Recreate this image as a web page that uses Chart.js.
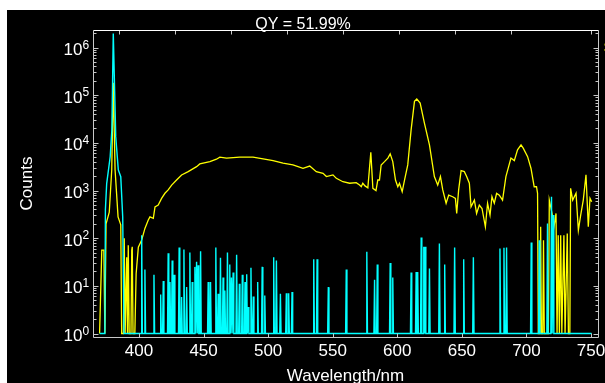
<!DOCTYPE html>
<html>
<head>
<meta charset="utf-8">
<script src="https://cdn.jsdelivr.net/npm/chart.js@4.4.1/dist/chart.umd.min.js"></script>
<style>
  html, body { margin: 0; padding: 0; background: #fff; }
  #wrap { position: absolute; left: 7px; top: 10px; width: 598px; height: 373px; background: #000; overflow: hidden; }
  canvas { display: block; }
</style>
</head>
<body>
<div id="wrap"><canvas id="qyChart" width="598" height="373"></canvas></div>
<script>
// sample emission (yellow), wavelength in nm / counts
var sampleWl = [369.5, 371.2, 372.8, 373.6, 374.5, 377.0, 378.9, 380.1, 381.5, 383.8, 385.9, 386.6, 388.0, 388.6, 389.3,
  390.5, 391.1, 391.7, 392.4, 393.8, 394.4, 394.8, 395.4, 396.8, 397.8, 399.5, 402.1, 404.6, 407.2, 408.5,
  411.1, 412.4, 414.9, 417.5, 420.1, 422.6, 425.3, 429.1, 433.0, 438.1, 444.6, 447.1, 454.9, 460.0, 462.6,
  467.8, 478.0, 488.3, 496.1, 503.8, 511.5, 519.2, 527.0, 532.2, 537.3, 542.5, 545.1, 550.2, 552.8, 557.9,
  563.1, 568.2, 570.8, 572.1, 573.3, 575.0, 577.2, 579.5, 581.1, 583.5, 584.9, 586.2, 587.5, 590.1, 592.7,
  594.5, 596.5, 598.6, 600.4, 601.7, 603.8, 605.6, 608.1, 610.7, 613.3, 615.1, 617.7, 621.0, 624.9, 628.7,
  631.3, 633.4, 635.2, 637.8, 639.8, 642.9, 645.0, 646.0, 647.5, 649.4, 651.9, 653.7, 655.8, 657.1, 659.7,
  661.4, 663.5, 665.6, 668.2, 669.9, 671.8, 673.3, 675.1, 676.9, 679.0, 681.5, 684.1, 688.0, 690.6, 693.1,
  695.8, 697.5, 700.9, 703.5, 706.0, 707.8, 708.6, 709.2, 710.4, 711.0, 711.6, 712.6, 713.2, 713.8, 717.0,
  717.7, 718.8, 720.3, 721.3, 722.9, 723.7, 724.6, 725.5, 726.5, 727.4, 729.0, 729.9, 731.6, 732.5, 733.6,
  734.2, 735.8, 738.4, 740.2, 742.0, 744.0, 746.1, 747.9, 749.2, 750.5];
var sampleCounts = [1, 56, 56, 1, 200, 350, 2700, 183000, 2700, 280, 190, 1, 1, 100, 1,
  40, 1, 71, 1, 1, 56, 66, 1, 1, 18, 65, 91, 160, 240, 280,
  260, 455, 495, 685, 875, 1030, 1300, 1660, 2120, 2490, 3170, 3610, 4040, 4540, 5000,
  4790, 5000, 5000, 4600, 4240, 3740, 3440, 2930, 3260, 2490, 2300, 1960, 2130, 1800, 1530,
  1420, 1460, 1300, 1200, 1420, 1250, 1140, 6300, 1110, 1000, 1660, 1660, 3440, 4040, 4790,
  5870, 4040, 1660, 1200, 1420, 945, 1660, 3440, 18700, 74000, 83000, 68500, 26000, 9080, 1960,
  1300, 1960, 1030, 540, 800, 740, 685, 330, 1030, 2610, 2490, 1960, 1420, 455, 630,
  330, 495, 420, 173, 540, 305, 740, 540, 875, 800, 630, 1960, 4790, 4240, 7130,
  9080, 7750, 5130, 2930, 1200, 1200, 875, 1, 1, 173, 1, 1, 90, 1, 1,
  630, 455, 280, 173, 330, 1, 115, 1, 115, 1, 115, 1, 125, 1, 1,
  1110, 630, 875, 147, 305, 630, 2130, 173, 685, 580];

// blank / reference (cyan): scatter peak, then isolated single-channel counts
var blankWl = [369.5, 373.6, 374.0, 375.0, 377.7, 379.0, 380.1, 382.0, 384.0, 385.9, 387.4, 388.4, 750.5];
var blankCounts = [1, 1, 400, 1400, 5100, 18600, 1960000, 13500, 2700, 1950, 280, 1, 1];
var spikeWl = [402.1, 404.6, 411.6, 416.8, 418.8, 422.6, 424.0, 425.7, 427.3, 431.1, 433.0, 434.8, 436.9, 439.4, 441.2,
  443.3, 444.6, 445.8, 447.7, 453.6, 455.4, 459.5, 461.3, 463.1, 465.1, 466.5, 468.5, 470.3, 471.6, 472.9,
  475.6, 477.7, 480.0, 482.1, 483.4, 484.6, 486.7, 488.5, 491.9, 495.4, 497.4, 504.3, 506.4, 509.5, 514.1,
  515.9, 518.5, 535.3, 537.9, 546.6, 560.5, 576.4, 582.4, 584.5, 594.5, 596.5, 610.7, 614.6, 615.8, 618.5,
  620.5, 621.6, 624.9, 632.6, 636.7, 644.4, 651.4, 658.9, 679.5, 682.6, 684.6, 703.7, 709.9, 716.3, 719.4, 720.7];
var spikeCounts = [115, 22, 17, 6.6, 12.6, 48, 12, 34, 17, 64, 5.8, 58, 9.4, 50, 12,
  25, 32, 27, 53, 12, 12, 64, 6.8, 39, 15, 8, 50, 28, 15, 19,
  45, 11, 17, 12, 17.5, 3.6, 24, 6, 12, 25, 6.3, 40, 34, 6.8, 7,
  7, 7.4, 36, 36, 9.4, 22, 52, 13.5, 28, 30, 15, 19, 19.5, 19.5, 103,
  66, 66, 23, 77, 28, 64, 36, 40, 61, 63, 64, 81, 90, 204, 740, 305];

var xTickValues = [400, 450, 500, 550, 600, 650, 700, 750];
var topTickValues = [0, 1, 2, 3, 4, 5, 6, 7, 8.43];
var yDecades = [0, 1, 2, 3, 4, 5, 6];
var titleText = 'QY = 51.99%';
var FONT = "'Liberation Sans', Arial, sans-serif";

function samplePoints() {
    return sampleWl.map(function (w, i) { return { x: w, y: sampleCounts[i] }; });
}

function blankPoints() {
    var pts = blankWl.map(function (w, i) { return { x: w, y: blankCounts[i] }; });
    for (var i = 0; i < spikeWl.length; i++) {
        var w = spikeWl[i];
        var prev = i > 0 ? spikeWl[i - 1] : -Infinity;
        var next = i < spikeWl.length - 1 ? spikeWl[i + 1] : Infinity;
        // zero-count channels either side of each spike
        if (w - prev > 1.0) pts.push({ x: w - 0.5, y: 1 });
        pts.push({ x: w, y: spikeCounts[i] });
        if (next - w > 1.0) pts.push({ x: w + 0.5, y: 1 });
    }
    pts.sort(function (a, b) { return a.x - b.x; });
    return pts;
}

// frame, inward ticks, 10^n labels, title and the clipped legend
var axisDecor = {
    id: 'axisDecor',
    afterDraw: function (chart) {
        var ctx = chart.ctx, a = chart.chartArea;
        var xs = chart.scales.x, ys = chart.scales.y, xt = chart.scales.xTop;
        var L = a.left + 0.5, R = a.right + 0.5, T = a.top + 0.5, B = a.bottom + 0.5;
        ctx.save();
        ctx.lineWidth = 1;
        ctx.strokeStyle = '#c8c8c8';
        ctx.beginPath();
        ctx.moveTo(L, T); ctx.lineTo(L, B); ctx.lineTo(R, B); ctx.lineTo(R, T);
        yDecades.forEach(function (k) {
            for (var m = 1; m <= 9; m++) {
                var v = m * Math.pow(10, k);
                if (v > ys.max) break;
                var py = Math.round(ys.getPixelForValue(v)) + 0.5;
                var len = m === 1 ? 5 : 3;
                ctx.moveTo(L, py); ctx.lineTo(L + len, py);
                ctx.moveTo(R, py); ctx.lineTo(R - len, py);
            }
        });
        xTickValues.forEach(function (v) {
            var px = Math.round(xs.getPixelForValue(v)) + 0.5;
            ctx.moveTo(px, B); ctx.lineTo(px, B - 4);
        });
        topTickValues.forEach(function (v) {
            var px = Math.round(xt.getPixelForValue(v)) + 0.5;
            ctx.moveTo(px, T); ctx.lineTo(px, T + 4);
        });
        ctx.stroke();
        ctx.strokeStyle = '#ffffff';
        ctx.beginPath(); ctx.moveTo(L, T); ctx.lineTo(R, T); ctx.stroke();

        ctx.fillStyle = '#ffffff';
        ctx.textBaseline = 'alphabetic';
        yDecades.forEach(function (k) {
            var py = ys.getPixelForValue(Math.pow(10, k));
            ctx.font = '17px ' + FONT;
            ctx.textAlign = 'right';
            ctx.fillText('10', a.left - 10.5, py + 7.5);
            ctx.font = '12px ' + FONT;
            ctx.textAlign = 'left';
            ctx.fillText(String(k), a.left - 10.5, py + 1);
        });

        ctx.font = '16px ' + FONT;
        ctx.textAlign = 'center';
        ctx.fillText(titleText, 296, 19.3);

        // legend sits mostly beyond the right edge, only its first column shows
        ctx.font = '14px ' + FONT;
        ctx.textAlign = 'left';
        var ds = chart.data.datasets;
        ctx.fillStyle = ds[1].borderColor;
        ctx.fillText(ds[1].label, 596.5, 42);
        ctx.fillStyle = ds[0].borderColor;
        ctx.fillText(ds[0].label, 597.3, 57);
        ctx.restore();
    }
};

var ctx = document.getElementById('qyChart').getContext('2d');
var qyChart = new Chart(ctx, {
    type: 'line',
    data: {
        datasets: [{
            label: 'Blank',
            data: blankPoints(),
            borderColor: '#00ffff',
            borderWidth: 1.4,
            pointRadius: 0,
            tension: 0
        }, {
            label: 'Sample',
            data: samplePoints(),
            borderColor: '#ffff00',
            borderWidth: 1.3,
            pointRadius: 0,
            tension: 0
        }]
    },
    options: {
        responsive: false,
        animation: false,
        devicePixelRatio: 1,
        layout: { padding: { top: 20, right: 7, left: 0, bottom: 0 } },
        plugins: {
            legend: { display: false },
            title: { display: false },
            tooltip: { enabled: false }
        },
        scales: {
            x: {
                type: 'linear',
                min: 364.4,
                max: 755.4,
                grid: { display: false, drawTicks: false },
                border: { display: false },
                ticks: { color: '#ffffff', font: { family: FONT, size: 17 }, padding: 4, maxRotation: 0, autoSkip: false },
                afterBuildTicks: function (s) {
                    s.ticks = xTickValues.map(function (v) { return { value: v }; });
                },
                title: {
                    display: true,
                    text: 'Wavelength/nm',
                    color: '#ffffff',
                    font: { family: FONT, size: 17, lineHeight: 0.8 },
                    padding: 0
                },
                afterFit: function (s) { s.height = 46; s.paddingLeft = 0; s.paddingRight = 0; }
            },
            xTop: {
                type: 'linear',
                position: 'top',
                display: false,
                min: -0.47,
                max: 8.56
            },
            y: {
                type: 'logarithmic',
                min: 0.845,
                max: 2.33e6,
                grid: { display: false, drawTicks: false },
                border: { display: false },
                ticks: { display: false },
                title: {
                    display: true,
                    text: 'Counts',
                    color: '#ffffff',
                    font: { family: FONT, size: 17 },
                    padding: { top: 10, bottom: 0 }
                },
                afterFit: function (s) { s.width = 86; }
            }
        }
    },
    plugins: [axisDecor]
});
</script>
</body>
</html>
